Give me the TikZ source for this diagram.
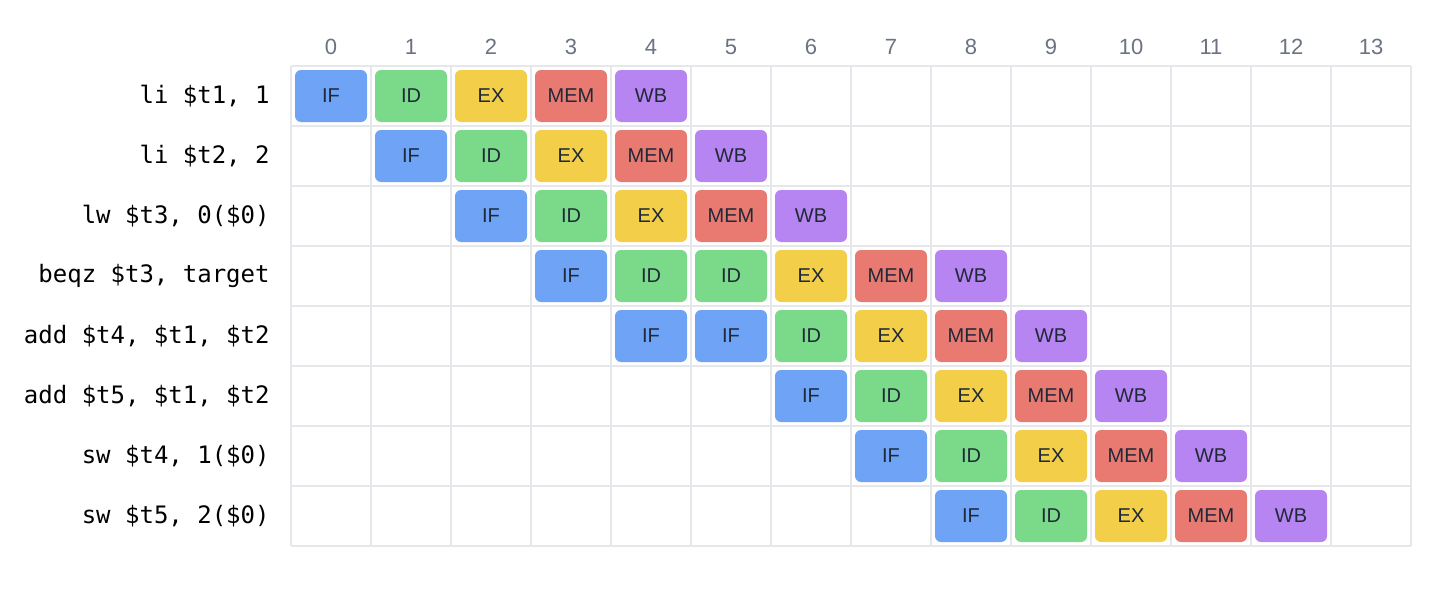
\documentclass[tikz,border=0pt]{standalone}
\usepackage{fontspec}
\setmainfont{Liberation Sans}
\setmonofont{DejaVu Sans Mono}
\usepackage{xcolor}
\usetikzlibrary{positioning}

\definecolor{ifblue}{HTML}{6FA3F5}
\definecolor{idgreen}{HTML}{7ADA8A}
\definecolor{exyellow}{HTML}{F3CE48}
\definecolor{memred}{HTML}{E87A72}
\definecolor{wbpurple}{HTML}{B785F2}
\definecolor{textdark}{HTML}{1F2937}
\definecolor{gridgray}{HTML}{E5E7EB}
\definecolor{numgray}{HTML}{6B7280}

\begin{document}
\begin{tikzpicture}[x=0.5pt, y=-0.5pt,
  stagebox/.style={rounded corners=3pt, minimum width=36pt, minimum height=26pt,
    inner sep=0pt, text=textdark, font=\fontsize{10}{12}\selectfont},
  gridline/.style={draw=gridgray, line width=1pt},
  headnum/.style={text=numgray, font=\fontsize{11}{13}\selectfont},
  instr/.style={anchor=east, inner sep=0pt, text=black, font=\ttfamily\fontsize{12}{14}\selectfont}]
  \useasboundingbox (0,0) rectangle (1438,594);
  % Grid of cycles x instructions
  \foreach \c in {0,...,14}
    \draw[gridline] (291+80*\c,66) -- (291+80*\c,546);
  \foreach \r in {0,...,8}
    \draw[gridline] (291,66+60*\r) -- (1411,66+60*\r);
  % Cycle numbers
  \foreach \c in {0,...,13}
    \node[headnum] (h\c) at (331+80*\c,47) {\c};
  % Instructions
  \foreach \r/\t in {0/{li \$t1, 1}, 1/{li \$t2, 2}, 2/{lw \$t3, 0(\$0)},
      3/{beqz \$t3, target}, 4/{add \$t4, \$t1, \$t2}, 5/{add \$t5, \$t1, \$t2},
      6/{sw \$t4, 1(\$0)}, 7/{sw \$t5, 2(\$0)}}
    \node[instr] (i\r) at (270,96+60*\r) {\t};
  % Pipeline stages (row/cycle/stage/colour)
  \foreach \r/\c/\s/\col in {
      0/0/IF/ifblue, 0/1/ID/idgreen, 0/2/EX/exyellow, 0/3/MEM/memred, 0/4/WB/wbpurple,
      1/1/IF/ifblue, 1/2/ID/idgreen, 1/3/EX/exyellow, 1/4/MEM/memred, 1/5/WB/wbpurple,
      2/2/IF/ifblue, 2/3/ID/idgreen, 2/4/EX/exyellow, 2/5/MEM/memred, 2/6/WB/wbpurple,
      3/3/IF/ifblue, 3/4/ID/idgreen, 3/5/ID/idgreen, 3/6/EX/exyellow, 3/7/MEM/memred, 3/8/WB/wbpurple,
      4/4/IF/ifblue, 4/5/IF/ifblue, 4/6/ID/idgreen, 4/7/EX/exyellow, 4/8/MEM/memred, 4/9/WB/wbpurple,
      5/6/IF/ifblue, 5/7/ID/idgreen, 5/8/EX/exyellow, 5/9/MEM/memred, 5/10/WB/wbpurple,
      6/7/IF/ifblue, 6/8/ID/idgreen, 6/9/EX/exyellow, 6/10/MEM/memred, 6/11/WB/wbpurple,
      7/8/IF/ifblue, 7/9/ID/idgreen, 7/10/EX/exyellow, 7/11/MEM/memred, 7/12/WB/wbpurple}
    \node[stagebox, fill=\col] (s\r-\c) at (331+80*\c,96+60*\r) {\s};
\end{tikzpicture}
\end{document}
